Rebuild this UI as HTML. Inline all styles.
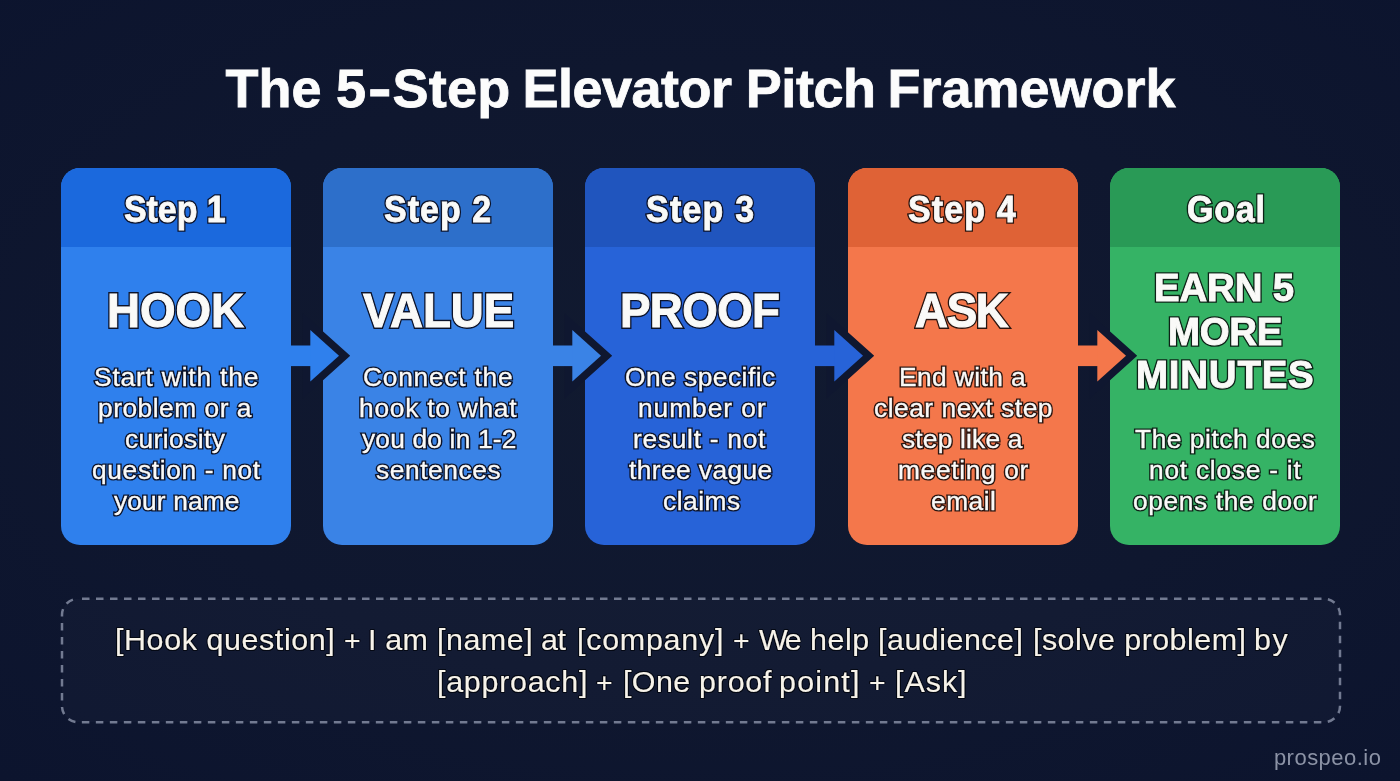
<!DOCTYPE html>
<html lang="en">
<head>
<meta charset="utf-8">
<title>The 5-Step Elevator Pitch Framework</title>
<style>
html,body{margin:0;padding:0}
body{width:1400px;height:781px;position:relative;overflow:hidden;background:radial-gradient(ellipse 72% 72% at 50% 48%,#111a30 0%,#0f172f 55%,#0c142e 100%) #0e1630;font-family:"Liberation Sans",Arial,sans-serif}
.card{position:absolute;top:168px;width:230px;height:377px;border-radius:19px;overflow:hidden}
.hd{position:absolute;left:0;top:0;width:100%;height:78.5px}
svg.arrows{position:absolute;left:0;top:0}
#txt{position:absolute;left:0;top:0;width:1400px;height:781px;will-change:transform;--o:#0c132a}
.t{position:absolute;white-space:pre;line-height:1;color:#fafaf8;margin:0}
.o::before{content:var(--s);position:absolute;left:0;top:0;z-index:-1;color:var(--o)}
.step::before{-webkit-text-stroke:3.60px var(--o)}
.big::before{-webkit-text-stroke:3.80px var(--o)}
.big5::before{-webkit-text-stroke:3.70px var(--o)}
.body::before{-webkit-text-stroke:3.15px var(--o)}
.ml{left:0;width:1400px}
.ml span{position:absolute;top:0;transform-origin:0 0}
.title span{transform:scaleX(1.0)}
.foot span{transform:scaleX(1.022)}
.step,.big,.big5,.body,.wm{transform-origin:0 0}
.step{transform:scaleX(0.943)}
.big{transform:scaleX(0.962)}
.big5{transform:scaleX(0.972)}
.body{transform:scaleX(1.053)}
.title{font-size:54px;font-weight:700;-webkit-text-stroke:0.8px currentColor;color:#fcfcfc}
.step{font-size:36px;font-weight:700;-webkit-text-stroke:0.8px currentColor}
.big{font-size:47.5px;font-weight:700;-webkit-text-stroke:1.0px currentColor}
.big5{font-size:39.6px;font-weight:700;-webkit-text-stroke:0.9px currentColor}
.body{font-size:25px;font-weight:400;-webkit-text-stroke:0.35px currentColor}
.foot{font-size:29.8px;font-weight:400;-webkit-text-stroke:0.15px currentColor;text-shadow:1.00px 0.00px 0 var(--o),0.92px 0.38px 0 var(--o),0.71px 0.71px 0 var(--o),0.38px 0.92px 0 var(--o),0.00px 1.00px 0 var(--o),-0.38px 0.92px 0 var(--o),-0.71px 0.71px 0 var(--o),-0.92px 0.38px 0 var(--o),-1.00px 0.00px 0 var(--o),-0.92px -0.38px 0 var(--o),-0.71px -0.71px 0 var(--o),-0.38px -0.92px 0 var(--o),-0.00px -1.00px 0 var(--o),0.38px -0.92px 0 var(--o),0.71px -0.71px 0 var(--o),0.92px -0.38px 0 var(--o);color:#f7f3ea;--o:#060a15}
.wm{font-size:22px;font-weight:400;color:#8b92a5}
</style>
</head>
<body>
<div class="card" style="left:61px;background:#2f80ed"><div class="hd" style="background:#1b69dd"></div></div>
<div class="card" style="left:323px;background:#3a83e6"><div class="hd" style="background:#2d6fca"></div></div>
<div class="card" style="left:585px;background:#2763d8"><div class="hd" style="background:#2055be"></div></div>
<div class="card" style="left:848px;background:#f4774b"><div class="hd" style="background:#df6236"></div></div>
<div class="card" style="left:1110px;background:#35b365"><div class="hd" style="background:#299a56"></div></div>
<svg class="arrows" width="1400" height="781" viewBox="0 0 1400 781"><polygon points="310.3,330.0 339,355.8 310.3,381.6" fill="#0f1730" stroke="#0f1730" stroke-width="15" stroke-linejoin="miter" stroke-miterlimit="10"/><rect x="290" y="345.5" width="21.30000000000001" height="20.6" fill="#2f80ed"/><polygon points="310.3,330.0 339,355.8 310.3,381.6" fill="#2f80ed"/><polygon points="572.3,330.0 601,355.8 572.3,381.6" fill="#0f1730" stroke="#0f1730" stroke-width="15" stroke-linejoin="miter" stroke-miterlimit="10"/><rect x="552" y="345.5" width="21.299999999999955" height="20.6" fill="#3a83e6"/><polygon points="572.3,330.0 601,355.8 572.3,381.6" fill="#3a83e6"/><polygon points="834.3,330.0 863,355.8 834.3,381.6" fill="#0f1730" stroke="#0f1730" stroke-width="15" stroke-linejoin="miter" stroke-miterlimit="10"/><rect x="814" y="345.5" width="21.299999999999955" height="20.6" fill="#2763d8"/><polygon points="834.3,330.0 863,355.8 834.3,381.6" fill="#2763d8"/><polygon points="1097.3,330.0 1126,355.8 1097.3,381.6" fill="#0f1730" stroke="#0f1730" stroke-width="15" stroke-linejoin="miter" stroke-miterlimit="10"/><rect x="1077" y="345.5" width="21.299999999999955" height="20.6" fill="#f4774b"/><polygon points="1097.3,330.0 1126,355.8 1097.3,381.6" fill="#f4774b"/>
<rect x="62" y="598.800" width="1278" height="123.400" rx="16" ry="16" fill="rgba(255,255,255,0.018)" stroke="#727a91" stroke-width="2.5" stroke-dasharray="7.500 6.500" stroke-dashoffset="-4"/>
</svg>
<div id="txt">
<h1 class="t title ml" style="top:61.3px"><span style="left:225.5px;letter-spacing:0.00px">The</span> <span style="left:336.0px;letter-spacing:0.00px">5</span><span style="left:367.7px;letter-spacing:0.00px;transform:scaleX(1.307);transform-origin:0 51%">-</span><span style="left:392.6px;letter-spacing:0.23px">Step</span> <span style="left:522.5px;letter-spacing:-0.50px">Elevator</span> <span style="left:745.8px;letter-spacing:-0.45px">Pitch</span> <span style="left:887.5px;letter-spacing:0.00px">Framework</span></h1>
<div class="t o step" style="left:124.4px;top:191.5px;letter-spacing:-0.05px;--s:'Step 1'">Step 1</div>
<div class="t o step" style="left:384.4px;top:191.5px;letter-spacing:1.10px;--s:'Step 2'">Step 2</div>
<div class="t o step" style="left:646.2px;top:191.5px;letter-spacing:1.33px;--s:'Step 3'">Step 3</div>
<div class="t o step" style="left:908.4px;top:191.5px;letter-spacing:1.24px;--o:#2a1510;--s:'Step 4'">Step 4</div>
<div class="t o step" style="left:1186.5px;top:191.5px;letter-spacing:0.88px;--o:#0d2217;--s:'Goal'">Goal</div>
<div class="t o big" style="left:106.5px;top:286.5px;letter-spacing:-0.07px;--s:'HOOK'">HOOK</div>
<div class="t o big" style="left:362.8px;top:286.5px;letter-spacing:-0.06px;--s:'VALUE'">VALUE</div>
<div class="t o big" style="left:620.3px;top:286.5px;letter-spacing:-0.65px;--s:'PROOF'">PROOF</div>
<div class="t o big" style="left:914.8px;top:286.5px;letter-spacing:-1.41px;--o:#2a1510;--s:'ASK'">ASK</div>
<div class="t o big5" style="left:1154.0px;top:268.2px;letter-spacing:-0.19px;--o:#0d2217;--s:'EARN 5'">EARN 5</div>
<div class="t o big5" style="left:1167.6px;top:311.7px;letter-spacing:-0.38px;--o:#0d2217;--s:'MORE'">MORE</div>
<div class="t o big5" style="left:1136.0px;top:355.2px;letter-spacing:0.80px;--o:#0d2217;--s:'MINUTES'">MINUTES</div>
<div class="t o body" style="left:94.4px;top:364.5px;letter-spacing:0.78px;--s:'Start with the'">Start with the</div>
<div class="t o body" style="left:98.4px;top:395.5px;letter-spacing:0.49px;--s:'problem or a'">problem or a</div>
<div class="t o body" style="left:125.2px;top:426.5px;letter-spacing:0.39px;--s:'curiosity'">curiosity</div>
<div class="t o body" style="left:91.9px;top:457.5px;letter-spacing:0.63px;--s:'question - not'">question - not</div>
<div class="t o body" style="left:113.6px;top:488.5px;letter-spacing:0.12px;--s:'your name'">your name</div>
<div class="t o body" style="left:363.3px;top:364.5px;letter-spacing:0.72px;--s:'Connect the'">Connect the</div>
<div class="t o body" style="left:358.5px;top:395.5px;letter-spacing:0.71px;--s:'hook to what'">hook to what</div>
<div class="t o body" style="left:361.7px;top:426.5px;letter-spacing:0.17px;--s:'you do in 1-2'">you do in 1-2</div>
<div class="t o body" style="left:376.3px;top:457.5px;letter-spacing:0.54px;--s:'sentences'">sentences</div>
<div class="t o body" style="left:624.8px;top:364.5px;letter-spacing:0.46px;--s:'One specific'">One specific</div>
<div class="t o body" style="left:637.9px;top:395.5px;letter-spacing:0.91px;--s:'number or'">number or</div>
<div class="t o body" style="left:632.9px;top:426.5px;letter-spacing:0.69px;--s:'result - not'">result - not</div>
<div class="t o body" style="left:629.0px;top:457.5px;letter-spacing:0.40px;--s:'three vague'">three vague</div>
<div class="t o body" style="left:662.7px;top:488.5px;letter-spacing:0.47px;--s:'claims'">claims</div>
<div class="t o body" style="left:898.6px;top:364.5px;letter-spacing:0.38px;--o:#2a1510;--s:'End with a'">End with a</div>
<div class="t o body" style="left:873.8px;top:395.5px;letter-spacing:0.49px;--o:#2a1510;--s:'clear next step'">clear next step</div>
<div class="t o body" style="left:901.8px;top:426.5px;letter-spacing:0.18px;--o:#2a1510;--s:'step like a'">step like a</div>
<div class="t o body" style="left:897.5px;top:457.5px;letter-spacing:0.62px;--o:#2a1510;--s:'meeting or'">meeting or</div>
<div class="t o body" style="left:931.4px;top:488.5px;letter-spacing:0.47px;--o:#2a1510;--s:'email'">email</div>
<div class="t o body" style="left:1135.4px;top:426.5px;letter-spacing:0.52px;--o:#0d2217;--s:'The pitch does'">The pitch does</div>
<div class="t o body" style="left:1148.9px;top:457.5px;letter-spacing:0.72px;--o:#0d2217;--s:'not close - it'">not close - it</div>
<div class="t o body" style="left:1133.4px;top:488.5px;letter-spacing:0.59px;--o:#0d2217;--s:'opens the door'">opens the door</div>
<div class="t foot ml" style="top:625.3px"><span style="left:114.8px;letter-spacing:0.57px">[Hook question]</span> <span style="left:343.9px;letter-spacing:0.00px;transform:scale(0.953);transform-origin:0 51%">+</span> <span style="left:367.8px;letter-spacing:0.21px">I am</span> <span style="left:436.6px;letter-spacing:0.49px">[name]</span> <span style="left:541.3px;letter-spacing:-0.52px">at</span> <span style="left:576.6px;letter-spacing:0.72px">[company]</span> <span style="left:732.6px;letter-spacing:0.00px;transform:scale(0.953);transform-origin:0 51%">+</span> <span style="left:759.3px;letter-spacing:-2.49px">We</span> <span style="left:810.1px;letter-spacing:0.53px">help</span> <span style="left:878.0px;letter-spacing:0.48px">[audience]</span> <span style="left:1032.9px;letter-spacing:0.45px">[solve problem]</span> <span style="left:1253.7px;letter-spacing:1.63px">by</span></div>
<div class="t foot ml" style="top:666.8px"><span style="left:436.6px;letter-spacing:0.71px">[approach]</span> <span style="left:596.1px;letter-spacing:0.00px;transform:scale(0.953);transform-origin:0 51%">+</span> <span style="left:623.1px;letter-spacing:0.38px">[One</span> <span style="left:699.4px;letter-spacing:0.77px">proof</span> <span style="left:778.6px;letter-spacing:1.17px">point]</span> <span style="left:869.0px;letter-spacing:0.00px;transform:scale(0.953);transform-origin:0 51%">+</span> <span style="left:895.1px;letter-spacing:0.94px">[Ask]</span></div>
<div class="t wm" style="left:1273.9px;top:747.2px;letter-spacing:0.48px">prospeo.io</div>
</div>
</body>
</html>
